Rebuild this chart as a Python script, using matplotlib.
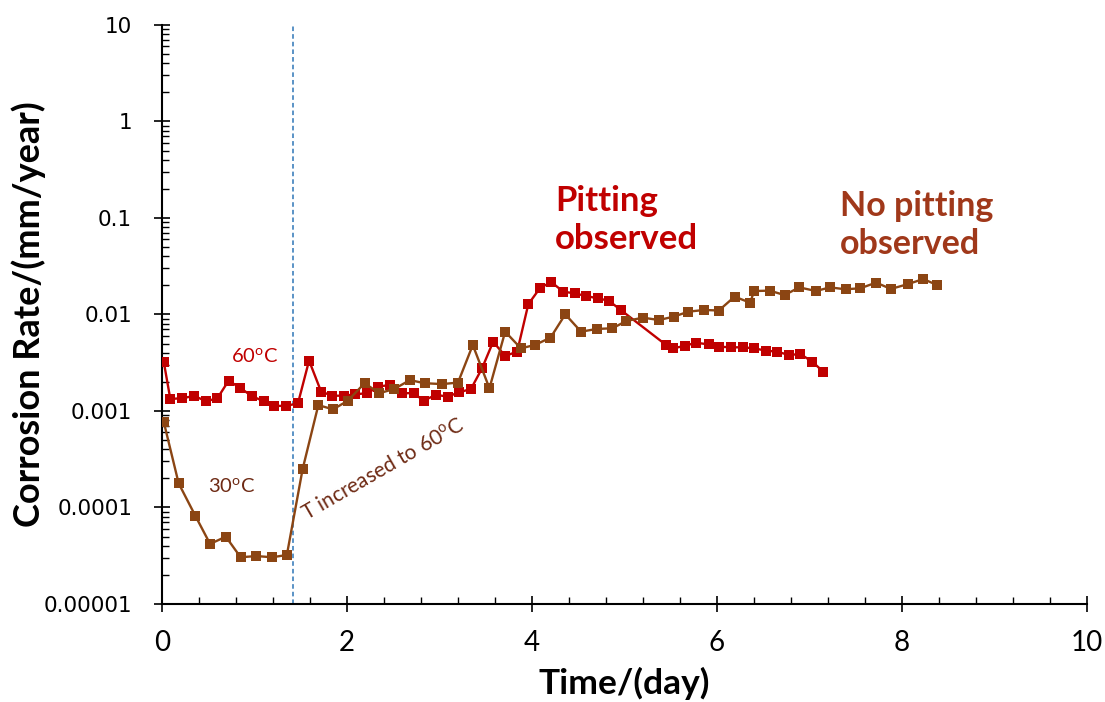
import matplotlib
matplotlib.use("Agg")
import matplotlib.pyplot as plt
from matplotlib.ticker import LogLocator, FixedLocator, MultipleLocator, NullFormatter

# Corrosion rate (mm/year) versus exposure time (days)
time_60 = [0.02, 0.09, 0.22, 0.35, 0.48, 0.60, 0.72, 0.84, 0.97, 1.10, 1.21, 1.34,
           1.47, 1.59, 1.72, 1.84, 1.97, 2.09, 2.22, 2.34, 2.46, 2.59, 2.72, 2.83,
           2.96, 3.09, 3.21, 3.34, 3.46, 3.58, 3.71, 3.84, 3.96, 4.09, 4.21, 4.34,
           4.46, 4.58, 4.71, 4.83, 4.96, 5.45, 5.52, 5.65, 5.77, 5.91, 6.02, 6.15,
           6.28, 6.40, 6.53, 6.65, 6.78, 6.90, 7.03, 7.15]
rate_60 = [0.0032, 0.00133, 0.00136, 0.00143, 0.00126, 0.00136, 0.00206, 0.00175,
           0.00143, 0.00126, 0.00113, 0.00113, 0.0012, 0.00333, 0.00159, 0.00144,
           0.00144, 0.00149, 0.00153, 0.00179, 0.00186, 0.00153, 0.00153, 0.00128,
           0.00147, 0.00141, 0.00156, 0.00169, 0.00277, 0.00522, 0.00372, 0.00412,
           0.01277, 0.019, 0.0216, 0.0172, 0.0166, 0.01556, 0.01472, 0.0139, 0.01113,
           0.00483, 0.00446, 0.00472, 0.0051, 0.0049, 0.00464, 0.00457, 0.00457,
           0.00446, 0.00422, 0.00412, 0.0038, 0.0039, 0.00324, 0.00255]

time_30 = [0.02, 0.18, 0.36, 0.52, 0.69, 0.85, 1.02, 1.19, 1.35, 1.52, 1.69, 1.85,
           2.01, 2.19, 2.35, 2.51, 2.68, 2.84, 3.03, 3.20, 3.36, 3.54, 3.71, 3.88,
           4.03, 4.20, 4.36, 4.53, 4.70, 4.87, 5.02, 5.20, 5.37, 5.53, 5.69, 5.86,
           6.02, 6.19, 6.36, 6.40, 6.57, 6.73, 6.89, 7.07, 7.22, 7.39, 7.55, 7.72,
           7.88, 8.06, 8.23, 8.38]
rate_30 = [0.000764, 0.000178, 0.0000822, 0.0000419, 0.0000499, 0.0000305,
           0.0000314, 0.0000305, 0.0000322, 0.000249, 0.00115, 0.00104, 0.00128,
           0.00194, 0.00153, 0.00169, 0.00209, 0.00194, 0.0019, 0.00197, 0.00483,
           0.00172, 0.00664, 0.00446, 0.00483, 0.00575, 0.01004, 0.00664, 0.00708,
           0.0072, 0.00857, 0.00927, 0.00877, 0.00948, 0.0107, 0.01114, 0.011,
           0.0153, 0.01324, 0.0175, 0.01767, 0.0159, 0.0191, 0.0175, 0.0191, 0.01825,
           0.0187, 0.0214, 0.0184, 0.0206, 0.0233, 0.0202]

temp_change_day = 1.42
y_ticks = [1e-5, 1e-4, 1e-3, 1e-2, 1e-1, 1, 10]
y_tick_labels = ["0.00001", "0.0001", "0.001", "0.01", "0.1", "1", "10"]
x_ticks = [0, 2, 4, 6, 8, 10]

RED = "#C00000"
BROWN = "#8B4513"
TEXT_BROWN = "#A0381A"
DARK_BROWN = "#6E2A14"
SANS = "Lato"

plt.rcParams["mathtext.fontset"] = "custom"
plt.rcParams["mathtext.rm"] = SANS

fig = plt.figure(figsize=(11.05, 7.02), dpi=100)
ax = fig.add_axes([0.1466, 0.1396, 0.8371, 0.8248])

ax.plot(time_60, rate_60, color=RED, lw=1.7, marker="s", ms=6.5,
        markeredgewidth=0, zorder=3)
ax.plot(time_30, rate_30, color=BROWN, lw=1.7, marker="s", ms=6.5,
        markeredgewidth=0, zorder=3)
ax.axvline(temp_change_day, color="#2E75B6", lw=1.1, ls=(0, (3, 2)), zorder=2)

ax.set_yscale("log")
ax.set_xlim(0, 10)
ax.set_ylim(1e-5, 10)

for s in ("top", "right"):
    ax.spines[s].set_visible(False)
for s in ("left", "bottom"):
    ax.spines[s].set_linewidth(1.5)

ax.yaxis.set_major_locator(FixedLocator(y_ticks))
ax.set_yticklabels(y_tick_labels, fontfamily="DejaVu Sans", fontsize=15.5)
ax.yaxis.set_minor_locator(LogLocator(base=10, subs=range(2, 10), numticks=20))
ax.yaxis.set_minor_formatter(NullFormatter())

ax.xaxis.set_major_locator(FixedLocator(x_ticks))
ax.set_xticklabels([str(t) for t in x_ticks], fontfamily=SANS, fontsize=20)
ax.xaxis.set_minor_locator(MultipleLocator(0.4))

ax.tick_params(which="major", direction="inout", length=11, width=1.2,
               color="black")
ax.tick_params(which="minor", direction="in", length=5, width=1.0, color="black")
ax.tick_params(axis="y", which="major", pad=16)
ax.tick_params(axis="x", which="major", pad=13)

ax.set_xlabel("Time/(day)", fontfamily=SANS, fontweight="bold", fontsize=25.5,
              labelpad=8)
ax.set_ylabel("Corrosion Rate/(mm/year)", fontfamily=SANS, fontweight="bold",
              fontsize=26, labelpad=-2)

ax.text(1.0, 0.00363, r"60$^{\mathrm{o}}$C", color=RED, fontsize=14.5,
        fontfamily=SANS, ha="center", va="center")
ax.text(0.75, 0.000165, r"30$^{\mathrm{o}}$C", color=DARK_BROWN, fontsize=14.5,
        fontfamily=SANS, ha="center", va="center")
ax.text(2.39, 0.000245, r"T increased to 60$^{\mathrm{o}}$C", color=DARK_BROWN,
        fontsize=15, fontfamily=SANS, ha="center", va="center", rotation=30,
        rotation_mode="anchor")
ax.text(4.25, 0.095, "Pitting\nobserved", color=RED, fontsize=25,
        fontweight="bold", fontfamily=SANS, ha="left", va="center",
        linespacing=1.22)
ax.text(7.33, 0.0845, "No pitting\nobserved", color=TEXT_BROWN, fontsize=24.5,
        fontweight="bold", fontfamily=SANS, ha="left", va="center",
        linespacing=1.22)

fig.savefig("out.png", dpi=100)
